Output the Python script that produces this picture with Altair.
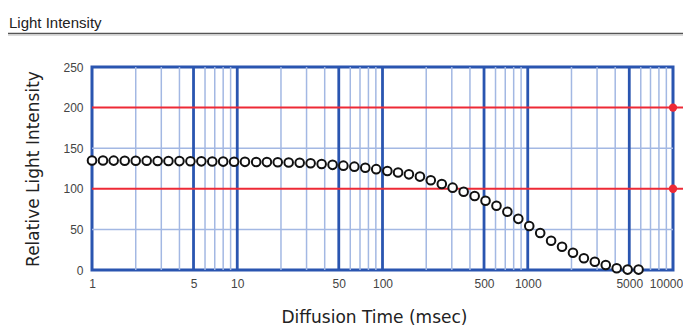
import altair as alt
import pandas as pd

# ---- data ----
diffusion_ms = [1, 1.19, 1.41, 1.68, 2, 2.38, 2.83, 3.36, 4, 4.76, 5.66, 6.73,
                8, 9.51, 11.3, 13.5, 16, 19.0, 22.6, 26.9, 32, 38.1, 45.3, 53.8,
                64, 76.1, 90.5, 108, 128, 152, 181, 215, 256, 304, 362, 431,
                512, 609, 724, 861, 1024, 1218, 1448, 1722, 2048, 2435, 2896,
                3444, 4096, 4871, 5793]
intensity = [134.8, 134.8, 134.7, 134.6, 134.5, 134.5, 134.3, 134.2, 134.1, 134.0, 133.8, 133.6,
             133.5, 133.3, 133.2, 133.0, 132.9, 132.7, 132.4, 132.0, 131.4,
             130.5, 129.5, 128.5, 127.3, 126.0, 124.2, 122.0, 120.0, 117.8, 115.0,
             110.5, 106.0, 101.4, 96.4, 91.1, 85.3, 79.2, 71.8, 63.0, 54.2,
             45.5, 36.1, 28.7, 21.3, 14.4, 10.2, 6.2, 2.1, 0.5, 0.5]

x_tick_values = [1, 5, 10, 50, 100, 500, 1000, 5000, 10000]
y_tick_values = [0, 50, 100, 150, 200, 250]
major_x = [5, 10, 50, 100, 500, 1000, 5000]
minor_x = [2, 3, 4, 6, 7, 8, 9, 20, 30, 40, 60, 70, 80, 90,
           200, 300, 400, 600, 700, 800, 900, 2000, 3000, 4000, 6000, 7000, 8000, 9000]
minor_y = [50, 150]
threshold_y = [100, 200]
marker_x = [10000, 10000]

chart_title = "Light Intensity"
x_title = "Diffusion Time (msec)"
y_title = "Relative Light Intensity"

# ---- styling ----
BLUE = "#2a55b0"
LIGHT_BLUE = "#a3b8e3"
RED = "#ee2a36"
FONT = "Liberation Sans"
TITLE_FONT = "DejaVu Sans"
W, H = 581, 203
RIGHT_PAD = 10

df = pd.DataFrame({"t": diffusion_ms, "v": intensity})
df_major = pd.DataFrame({"t": major_x})
df_minor = pd.DataFrame({"t": minor_x})
df_minor_y = pd.DataFrame({"v": minor_y})
df_red = pd.DataFrame({"v": threshold_y, "t": marker_x})

xscale = alt.Scale(type="log", domain=[1, 10000], nice=False)
yscale = alt.Scale(domain=[0, 250], nice=False)

x_axis = alt.Axis(values=x_tick_values, format="d", grid=False, ticks=False, domain=False,
                  labelFontSize=12, labelColor="#444", labelPadding=8, labelFont=FONT,
                  labelOffset={"condition": {"test": "datum.value >= 10000", "value": -7},
                               "value": 0},
                  title=x_title, titleFontSize=17, titleFontWeight="normal", titleColor="#222",
                  titleFont=TITLE_FONT, titleX=282, titleY=52, titleBaseline="alphabetic",
                  titleAlign="center", labelFlush=False)
y_axis = alt.Axis(values=y_tick_values, grid=False, ticks=False, domain=False,
                  labelFontSize=12, labelColor="#444", labelPadding=9, labelFont=FONT,
                  title=y_title, titleFontSize=17, titleFontWeight="normal", titleColor="#222",
                  titleFont=TITLE_FONT, titleX=-59, titleY=H / 2, titleAngle=-90,
                  titleAlign="center", titleBaseline="middle")

minor_v = alt.Chart(df_minor).mark_rule(color=LIGHT_BLUE, strokeWidth=1.5).encode(
    x=alt.X("t:Q", scale=xscale, axis=x_axis))
minor_h = alt.Chart(df_minor_y).mark_rule(color=LIGHT_BLUE, strokeWidth=1.5).encode(
    y=alt.Y("v:Q", scale=yscale, axis=y_axis))
major_v = alt.Chart(df_major).mark_rule(color=BLUE, strokeWidth=2.8).encode(
    x=alt.X("t:Q", scale=xscale))
red_h = alt.Chart(df_red).mark_rule(color=RED, strokeWidth=2, clip=False).encode(
    y=alt.Y("v:Q", scale=yscale), x=alt.value(0), x2=alt.value(W + RIGHT_PAD))
red_dots = alt.Chart(df_red).mark_circle(color=RED, opacity=1, size=70, clip=False).encode(
    x=alt.X("t:Q", scale=xscale), y=alt.Y("v:Q", scale=yscale))
points = alt.Chart(df).mark_point(shape="circle", filled=True, fill="white", stroke="#111",
                                  strokeWidth=2, size=74, opacity=1, clip=False).encode(
    x=alt.X("t:Q", scale=xscale), y=alt.Y("v:Q", scale=yscale))

title_df = pd.DataFrame({"label": [chart_title]})
title_text = alt.Chart(title_df).mark_text(align="left", baseline="alphabetic", fontSize=15,
                                           font=FONT, color="#222").encode(
    text="label:N", x=alt.value(-83), y=alt.value(-39.5))
underline = alt.Chart(title_df).mark_rule(color="#555", strokeWidth=1.5).encode(
    x=alt.value(-89), x2=alt.value(W + RIGHT_PAD), y=alt.value(-33.5))
underline2 = alt.Chart(title_df).mark_rule(color="#cfcfcf", strokeWidth=1.5).encode(
    x=alt.value(-89), x2=alt.value(W + RIGHT_PAD), y=alt.value(-32))

chart = alt.layer(minor_v, minor_h, major_v, red_h, red_dots, points,
                  title_text, underline, underline2).properties(
    width=W, height=H,
    autosize=alt.AutoSizeParams(type="none"),
    padding={"left": 84, "top": 59, "right": RIGHT_PAD, "bottom": 57},
    background="white",
).configure_view(stroke=BLUE, strokeWidth=3)

chart.save("out.html", embed_options={"renderer": "svg", "actions": False})
